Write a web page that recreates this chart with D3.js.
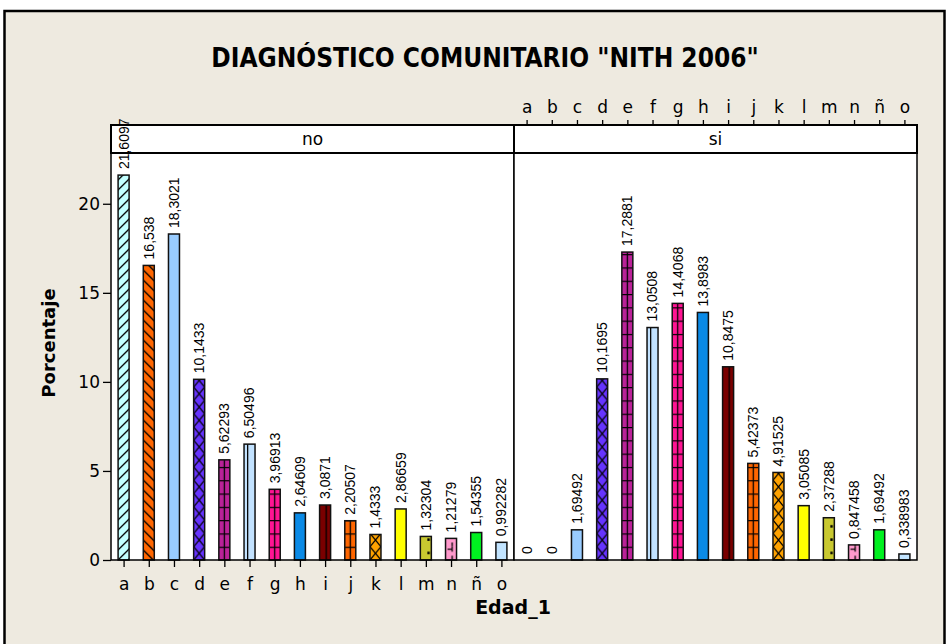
<!DOCTYPE html>
<html>
<head>
<meta charset="utf-8">
<script src="https://cdn.jsdelivr.net/npm/d3@7"></script>
<style>
  body { margin: 0; background: #ffffff; }
  svg { display: block; }
</style>
</head>
<body>
<svg id="chart"></svg>
<script>
// categories (Edad_1) and the two panels
var categories = ['a','b','c','d','e','f','g','h','i','j','k','l','m','n','ñ','o'];
var panels = ['no','si'];

// Porcentaje per panel, same order as categories
var valuesNo = [21.6097, 16.538, 18.3021, 10.1433, 5.62293, 6.50496, 3.96913, 2.64609,
                3.0871, 2.20507, 1.4333, 2.86659, 1.32304, 1.21279, 1.54355, 0.992282];
var valuesSi = [0, 0, 1.69492, 10.1695, 17.2881, 13.0508, 14.4068, 13.8983,
                10.8475, 5.42373, 4.91525, 3.05085, 2.37288, 0.847458, 1.69492, 0.338983];
// bar labels as printed in the chart
var labelsNo = ['21,6097','16,538','18,3021','10,1433','5,62293','6,50496','3,96913','2,64609',
                '3,0871','2,20507','1,4333','2,86659','1,32304','1,21279','1,54355','0,992282'];
var labelsSi = ['0','0','1,69492','10,1695','17,2881','13,0508','14,4068','13,8983',
                '10,8475','5,42373','4,91525','3,05085','2,37288','0,847458','1,69492','0,338983'];
var yTicks = [0, 5, 10, 15, 20];

// fill + hatch style for each category
var fills = ['#c2ffff','#ff6600','#99ccff','#6633ff','#bb2299','#c2e2ff','#ff1493','#0a8ae6',
             '#7a0000','#ff6600','#ffa200','#ffff00','#c8c830','#ff99cc','#00f020','#c2e4ff'];
var hatches = ['slash','back','none','cross','ladder','vline1','ladder','none',
               'vline2','ladder','cross','none','dots','npat','none','none'];

var W = 949, H = 644;
var svg = d3.select('#chart').attr('width', W).attr('height', H);
var defs = svg.append('defs');

// outer frame
svg.append('rect')
    .attr('x', 4.5).attr('y', 11)
    .attr('width', 940).attr('height', 700)
    .attr('fill', '#eeeae0')
    .attr('stroke', '#000').attr('stroke-width', 2.5);

svg.append('text')
    .attr('x', 485).attr('y', 67)
    .attr('text-anchor', 'middle')
    .style('font-family', '"DejaVu Sans Condensed", "DejaVu Sans", sans-serif')
    .style('font-weight', 'bold')
    .style('font-size', '26px')
    .text('DIAGNÓSTICO COMUNITARIO "NITH 2006"');

var dim = {l: 111, w: 403, top: 153, bottom: 560, stripTop: 125};

var y = d3.scaleLinear()
    .domain([0, 22.85])
    .range([dim.bottom, dim.top]);

var x = d3.scalePoint()
    .domain(categories)
    .range([0, dim.w])
    .padding(0.5);

var bw = 11;

function makePattern(id, i, bx) {
    var kind = hatches[i];
    if (kind === 'none') return fills[i];
    var ph = 13.3, pw = bw;
    if (kind === 'slash' || kind === 'back') { ph = 10; pw = 10; }
    if (kind === 'vline1' || kind === 'vline2') ph = 20;
    var p = defs.append('pattern')
        .attr('id', id)
        .attr('patternUnits', 'userSpaceOnUse')
        .attr('x', bx).attr('y', y(0))
        .attr('width', pw).attr('height', ph);
    p.append('rect').attr('width', pw).attr('height', ph).attr('fill', fills[i]);
    var st = function(sel) { return sel.attr('stroke', '#000').attr('stroke-width', 1.3).attr('fill', 'none'); };
    if (kind === 'slash') {
        st(p.append('path').attr('d', 'M-1,11 L11,-1 M-6,6 L6,-6 M4,16 L16,4'));
    } else if (kind === 'back') {
        st(p.append('path').attr('d', 'M-1,-1 L11,11 M4,-6 L16,6 M-6,4 L6,16'));
    } else if (kind === 'cross') {
        st(p.append('path').attr('d', 'M0,0 L' + pw + ',' + ph + ' M' + pw + ',0 L0,' + ph));
    } else if (kind === 'ladder') {
        st(p.append('path').attr('d', 'M0,0.5 H' + pw + ' M' + (pw / 2) + ',0 V' + ph));
    } else if (kind === 'vline1' || kind === 'vline2') {
        var vx = kind === 'vline1' ? pw * 0.33 : pw * 0.6;
        st(p.append('path').attr('d', 'M' + vx + ',0 V' + ph));
    } else if (kind === 'dots') {
        p.append('rect').attr('x', pw - 4).attr('y', 5).attr('width', 2.5).attr('height', 2.5).attr('fill', '#000');
    } else if (kind === 'npat') {
        st(p.append('path').attr('d', 'M' + (pw * 0.6) + ',0 V5 M2,2.5 H' + (pw * 0.6) + ' M' + (pw * 0.6) + ',9 V13'));
    }
    return 'url(#' + id + ')';
}

var fontTick = '"DejaVu Sans", Verdana, sans-serif';

panels.forEach(function(name, pi) {
    var vals = pi === 0 ? valuesNo : valuesSi;
    var labs = pi === 0 ? labelsNo : labelsSi;
    var x0 = dim.l + pi * dim.w;
    var g = svg.append('g').attr('transform', 'translate(' + x0 + ',0)');

    // plot background + strip
    g.append('rect')
        .attr('x', 0).attr('y', dim.top)
        .attr('width', dim.w).attr('height', dim.bottom - dim.top)
        .attr('fill', '#fff');
    g.append('rect')
        .attr('x', 0).attr('y', dim.stripTop)
        .attr('width', dim.w).attr('height', dim.top - dim.stripTop)
        .attr('fill', '#fff')
        .attr('stroke', '#000').attr('stroke-width', 2);
    g.append('text')
        .attr('x', dim.w / 2).attr('y', (dim.stripTop + dim.top) / 2)
        .attr('dy', '0.35em')
        .attr('text-anchor', 'middle')
        .style('font-family', fontTick).style('font-size', '17px')
        .text(name);

    var data = categories.map(function(c, i) { return {cat: c, i: i, v: vals[i], lab: labs[i]}; });

    // bars
    g.selectAll('.bar')
        .data(data)
        .join('rect')
        .attr('class', 'bar')
        .attr('x', d => x(d.cat) - bw / 2)
        .attr('y', d => y(d.v))
        .attr('width', bw)
        .attr('height', d => y(0) - y(d.v))
        .attr('fill', d => makePattern('p' + pi + '_' + d.i, d.i, x(d.cat) - bw / 2))
        .attr('stroke', '#111')
        .attr('stroke-width', 1.5);

    // panel border
    g.append('rect')
        .attr('x', 0).attr('y', dim.top)
        .attr('width', dim.w).attr('height', dim.bottom - dim.top)
        .attr('fill', 'none')
        .attr('stroke', '#000').attr('stroke-width', 1.5);

    // value labels
    g.selectAll('.vlab')
        .data(data)
        .join('text')
        .attr('class', 'vlab')
        .attr('transform', d => 'translate(' + x(d.cat) + ',' + (y(d.v) - 6) + ') rotate(-90)')
        .attr('dy', '0.35em')
        .style('font-family', '"Liberation Sans", Arial, sans-serif')
        .style('font-size', '14px')
        .text(d => d.lab);

    if (pi === 0) {
        var yAx = g.append('g')
            .call(d3.axisLeft(y).tickValues(yTicks).tickSize(8).tickPadding(3));
        yAx.select('.domain').remove();
        yAx.selectAll('text').style('font-family', fontTick).style('font-size', '17px').attr('fill', '#000');
        yAx.selectAll('line').attr('stroke', '#000').attr('stroke-width', 1.3);

        var xAx = g.append('g')
            .attr('transform', 'translate(0,' + dim.bottom + ')')
            .call(d3.axisBottom(x).tickSize(7).tickPadding(11));
        xAx.select('.domain').remove();
        xAx.selectAll('text').style('font-family', fontTick).style('font-size', '17px').attr('fill', '#000');
        xAx.selectAll('line').attr('stroke', '#000').attr('stroke-width', 1.3);
    } else {
        var tAx = g.append('g')
            .attr('transform', 'translate(0,' + dim.stripTop + ')')
            .call(d3.axisTop(x).tickSize(5).tickPadding(7));
        tAx.select('.domain').remove();
        tAx.selectAll('text').style('font-family', fontTick).style('font-size', '17px').attr('fill', '#000');
        tAx.selectAll('line').attr('stroke', '#000').attr('stroke-width', 1.3);
    }
});

// axis titles
svg.append('text')
    .attr('transform', 'translate(55,343) rotate(-90)')
    .attr('text-anchor', 'middle')
    .style('font-family', fontTick).style('font-weight', 'bold').style('font-size', '18px')
    .text('Porcentaje');

svg.append('text')
    .attr('x', 513).attr('y', 614)
    .attr('text-anchor', 'middle')
    .style('font-family', fontTick).style('font-weight', 'bold').style('font-size', '19px')
    .text('Edad_1');
</script>
</body>
</html>
